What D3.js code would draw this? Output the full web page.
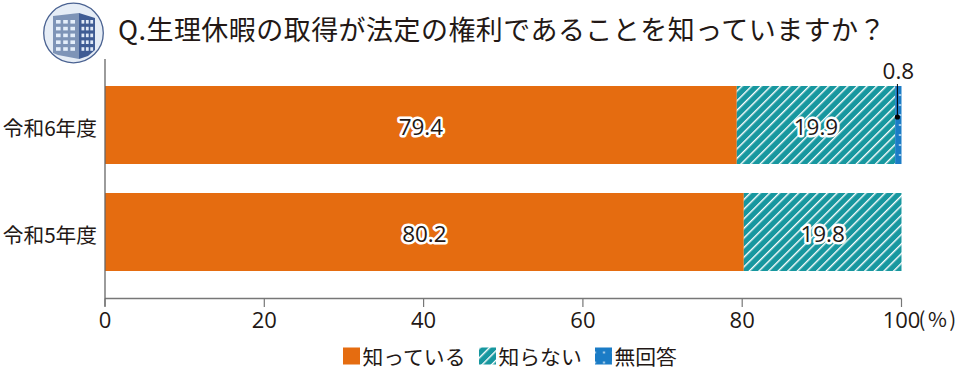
<!DOCTYPE html>
<html>
<head>
<meta charset="utf-8">
<script src="https://cdn.jsdelivr.net/npm/d3@7/dist/d3.min.js"></script>
<style>
  html, body { margin: 0; padding: 0; background: #fff; }
  text { font-family: "Noto Sans CJK JP", "Open Sans", sans-serif; fill: #231815; }
  .num { font-family: "Open Sans", "Noto Sans CJK JP", sans-serif; }
</style>
</head>
<body>
<svg id="chart" width="960" height="369"></svg>
<script>
var title = "Q.生理休暇の取得が法定の権利であることを知っていますか？";
var years = ["令和6年度", "令和5年度"];
var seriesNames = ["知っている", "知らない", "無回答"];
var known = [79.4, 80.2];
var unknown = [19.9, 19.8];
var noAnswer = [0.8, 0];
var xTicks = [0, 20, 40, 60, 80, 100];

var rows = years.map(function(y, i) {
  return { year: y, "知っている": known[i], "知らない": unknown[i], "無回答": noAnswer[i] };
});

var svg = d3.select("#chart");
var defs = svg.append("defs");

// hatch for 知らない
var hatch = defs.append("pattern").attr("id", "hatch")
  .attr("patternUnits", "userSpaceOnUse")
  .attr("width", 6.8).attr("height", 6.8)
  .attr("patternTransform", "rotate(45)");
hatch.append("rect").attr("width", 6.8).attr("height", 6.8).attr("fill", "#17979f");
hatch.append("rect").attr("x", 0).attr("width", 1.4).attr("height", 6.8).attr("fill", "#fff");

// dots for 無回答
var dots = defs.append("pattern").attr("id", "dots")
  .attr("patternUnits", "userSpaceOnUse")
  .attr("width", 9).attr("height", 10)
  .attr("patternTransform", "translate(4.5,0)");
dots.append("rect").attr("width", 9).attr("height", 10).attr("fill", "#1b7cc6");
dots.append("circle").attr("cx", 4.5).attr("cy", 5).attr("r", 0.9).attr("fill", "#fff");

var fills = d3.scaleOrdinal().domain(seriesNames).range(["#e56c10", "url(#hatch)", "url(#dots)"]);

var x = d3.scaleLinear().domain([0, 100]).range([105, 901.5]);
var y = d3.scaleBand().domain(years).range([86, 271]).paddingInner(0.271);

// widths are normalised because 令和6年度 sums to 100.1
var stack = d3.stack().keys(seriesNames).offset(d3.stackOffsetExpand);
var stacked = stack(rows);

svg.selectAll(".layer").data(stacked).enter().append("g")
  .attr("class", "layer")
  .attr("fill", function(d) { return fills(d.key); })
  .selectAll("rect").data(function(d) { return d; }).enter().append("rect")
  .attr("x", function(d) { return x(d[0] * 100); })
  .attr("y", function(d) { return y(d.data.year); })
  .attr("width", function(d) { return x(d[1] * 100) - x(d[0] * 100); })
  .attr("height", y.bandwidth());

// bar value labels
stacked.slice(0, 2).forEach(function(layer) {
  svg.selectAll(".v" + layer.index).data(layer).enter().append("text")
    .attr("class", "num")
    .attr("x", function(d) { return x((d[0] + d[1]) * 50); })
    .attr("y", function(d) { return y(d.data.year) + y.bandwidth() / 2 + 10; })
    .attr("text-anchor", "middle")
    .style("font-size", "22.5px")
    .style("paint-order", "stroke")
    .style("stroke", "#fff").style("stroke-width", 5).style("stroke-linejoin", "round")
    .text(function(d) { return layer.key == "知っている" ? known[years.indexOf(d.data.year)] : unknown[years.indexOf(d.data.year)]; });
});

// leader for 0.8
var small = stacked[2][0];
var lx = x((small[0] + small[1]) * 50) - 0.9;
svg.append("line").attr("x1", lx).attr("x2", lx)
  .attr("y1", 84).attr("y2", y(years[0]) + 31)
  .attr("stroke", "#000").attr("stroke-width", 1);
svg.append("circle").attr("cx", lx).attr("cy", y(years[0]) + 31).attr("r", 2.6).attr("fill", "#000");
svg.append("text").attr("class", "num")
  .attr("x", lx + 1).attr("y", 79).attr("text-anchor", "middle")
  .style("font-size", "22.5px").text(noAnswer[0]);

// axes
svg.append("line").attr("x1", x(0)).attr("x2", x(100)).attr("y1", 298.5).attr("y2", 298.5)
  .attr("stroke", "#777").attr("stroke-width", 1.4);
svg.append("line").attr("x1", x(0)).attr("x2", x(0)).attr("y1", 59).attr("y2", 306.5)
  .attr("stroke", "#666").attr("stroke-width", 1.3);

svg.selectAll(".tick").data(xTicks).enter().append("line")
  .attr("class", "tick")
  .attr("x1", function(d) { return x(d); }).attr("x2", function(d) { return x(d); })
  .attr("y1", 298.5).attr("y2", 307)
  .attr("stroke", "#777").attr("stroke-width", 1.2);

svg.selectAll(".tickLabel").data(xTicks).enter().append("text")
  .attr("class", "tickLabel num")
  .attr("x", function(d) { return x(d); })
  .attr("y", 327.5)
  .attr("text-anchor", "middle")
  .style("font-size", "22px")
  .text(function(d) { return d; });
svg.append("text").attr("x", x(100) + 17).attr("y", 327)
  .style("font-size", "20.5px").style("letter-spacing", "2.5px").text("(%)");

svg.selectAll(".yearLabel").data(years).enter().append("text")
  .attr("class", "yearLabel")
  .attr("x", 97)
  .attr("y", function(d) { return y(d) + y.bandwidth() / 2 + 11; })
  .attr("text-anchor", "end")
  .style("font-size", "20.7px")
  .text(function(d) { return d; });

// title
svg.append("text").attr("x", 118).attr("y", 40)
  .style("font-size", "27px")
  .style("letter-spacing", "0.45px")
  .text(title);

// legend
var legendX = [343, 479, 595];
var legend = svg.selectAll(".legend").data(seriesNames).enter().append("g")
  .attr("class", "legend")
  .attr("transform", function(d, i) { return "translate(" + legendX[i] + ",347.5)"; });
legend.append("rect").attr("width", 17).attr("height", 17)
  .attr("fill", function(d) { return fills(d); });
legend.append("text").attr("x", 19.5).attr("y", 17)
  .style("font-size", "20.8px")
  .text(function(d) { return d; });

// building icon
var icon = svg.append("g");
icon.append("circle").attr("cx", 73.5).attr("cy", 33).attr("r", 29.8)
  .attr("fill", "#e6edf6").attr("stroke", "#4a6291").attr("stroke-width", 1.3);
icon.append("path").attr("d", "M53 16 L79 13 L79 59 L58 55 L53 53 Z").attr("fill", "#7e94b7");
icon.append("path").attr("d", "M79 13 L95 18 L95 50 L88 56 L79 59 Z").attr("fill", "#3f5c94");
d3.range(5).forEach(function(r) {
  d3.range(3).forEach(function(c) {
    icon.append("rect").attr("x", 56 + c * 7.2).attr("y", 20 + r * 6.8).attr("width", 4.6).attr("height", 3.6).attr("fill", "#e4eefa");
    icon.append("rect").attr("x", 81.5 + c * 4.4).attr("y", 20 + r * 6.8).attr("width", 2.8).attr("height", 3.6).attr("fill", "#dfe9f7");
  });
});
</script>
</body>
</html>
